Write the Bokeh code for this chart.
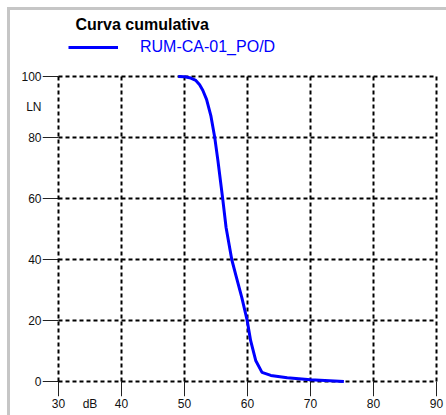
from bokeh.plotting import figure
from bokeh.models import Legend, LegendItem, Label, LinearAxis, FixedTicker
from bokeh.embed import file_html
from bokeh.resources import INLINE

# Data
db = [49.0, 50.0, 51.0, 51.8, 52.4, 52.9, 53.5, 54.2, 54.8, 55.3, 55.7, 56.1, 56.6, 57.5,
      58.2, 59.1, 59.95, 60.5, 61.3, 62.3, 63.7, 66.3, 70.0, 75.3]
ln = [100.0, 99.9, 99.5, 98.7, 97.3, 95.5, 92.5, 87.0, 80.0, 72.5, 65.9, 59.3, 50.5, 40.0,
      34.5, 27.5, 20.0, 13.4, 6.9, 3.0, 2.0, 1.2, 0.6, 0.0]
x_ticks = [30, 40, 50, 60, 70, 80, 90]
y_ticks = [0, 20, 40, 60, 80, 100]
series_name = "RUM-CA-01_PO/D"
title_text = "Curva cumulativa"
x_label = "dB"
x_label_pos = 35
y_label = "LN"
y_label_pos = 90

FONT = "Liberation Sans"
TXT = "#111111"

# page geometry (pixels)
W, H = 446, 415
F_LEFT, F_RIGHT, F_TOP, F_BOTTOM = 42, 439, 10, 396      # drawing frame (includes tick marks)
PX_X0, PX_X1 = 58, 436                                   # pixel of x=30 and x=90
PX_Y0, PX_Y1 = 381, 76                                   # pixel of y=0 and y=100

sx = (x_ticks[-1] - x_ticks[0]) / (PX_X1 - PX_X0)
sy = (y_ticks[-1] - y_ticks[0]) / (PX_Y0 - PX_Y1)
x_range = (x_ticks[0] - (PX_X0 - F_LEFT) * sx, x_ticks[-1] + (F_RIGHT - PX_X1) * sx)
y_range = (y_ticks[0] - (F_BOTTOM - PX_Y0) * sy, y_ticks[-1] + (PX_Y1 - F_TOP) * sy)

p = figure(width=W, height=H, output_backend="svg", toolbar_location=None,
           x_range=x_range, y_range=y_range, title=None,
           x_axis_location=None, y_axis_location=None,
           min_border_left=F_LEFT, min_border_right=W - F_RIGHT,
           min_border_top=F_TOP, min_border_bottom=H - F_BOTTOM)
p.background_fill_alpha = 0
p.border_fill_alpha = 0
p.outline_line_color = None
p.xgrid.visible = False
p.ygrid.visible = False
p.styles = {
    "background": "linear-gradient(#c6c6c6,#c6c6c6) 7px 7px / 439px 3px no-repeat, "
                  "linear-gradient(#c6c6c6,#c6c6c6) 7px 7px / 3px 408px no-repeat, white"
}

n_x, n_y = len(x_ticks), len(y_ticks)
# tick marks: from the data box edge out to the frame edge
p.segment(x0=x_ticks, y0=[y_ticks[0]] * n_x, x1=x_ticks, y1=[y_range[0]] * n_x,
          line_color="#222222", line_width=1)
p.segment(x0=[x_ticks[0]] * n_y, y0=y_ticks, x1=[x_range[0]] * n_y, y1=y_ticks,
          line_color="#222222", line_width=1)

# dashed grid (including the border lines) limited to the data box
p.segment(x0=x_ticks, y0=[y_ticks[0]] * n_x, x1=x_ticks, y1=[y_ticks[-1]] * n_x,
          line_color="black", line_width=2, line_dash="4 3")
p.segment(x0=[x_ticks[0]] * n_y, y0=y_ticks, x1=[x_ticks[-1]] * n_y, y1=y_ticks,
          line_color="black", line_width=2, line_dash="4 3")

r = p.line(db, ln, line_color="#0000ff", line_width=3)


def make_axis(ticks, extra_pos, extra_text, standoff):
    ax = LinearAxis(ticker=FixedTicker(ticks=sorted(ticks + [extra_pos])))
    ax.axis_line_color = None
    ax.major_tick_line_color = None
    ax.minor_tick_line_color = None
    ax.major_tick_in = 0
    ax.major_tick_out = 0
    ax.minor_tick_in = 0
    ax.minor_tick_out = 0
    ax.major_label_standoff = standoff
    ax.major_label_text_font = FONT
    ax.major_label_text_font_size = "12px"
    ax.major_label_text_color = TXT
    ax.major_label_overrides = {extra_pos: extra_text}
    return ax


p.add_layout(make_axis(x_ticks, x_label_pos, x_label, 0), "below")
p.add_layout(make_axis(y_ticks, y_label_pos, y_label, 1), "left")

p.add_layout(Label(x=75 - F_LEFT, y=F_BOTTOM - 23.5, x_units="screen", y_units="screen",
                   text=title_text, text_font=FONT, text_font_size="16px",
                   text_font_style="bold", text_color="black", text_baseline="middle"))

legend = Legend(items=[LegendItem(label=series_name, renderers=[r])],
                location=(68 - F_LEFT, F_BOTTOM - 57), orientation="vertical",
                glyph_width=50, glyph_height=20, label_height=20, label_standoff=22,
                padding=0, margin=0, spacing=0,
                label_text_font=FONT, label_text_font_size="16px", label_text_color="#0000ff",
                border_line_color=None, background_fill_alpha=0)
p.add_layout(legend, "center")

open("out.html", "w").write(file_html(p, INLINE))
